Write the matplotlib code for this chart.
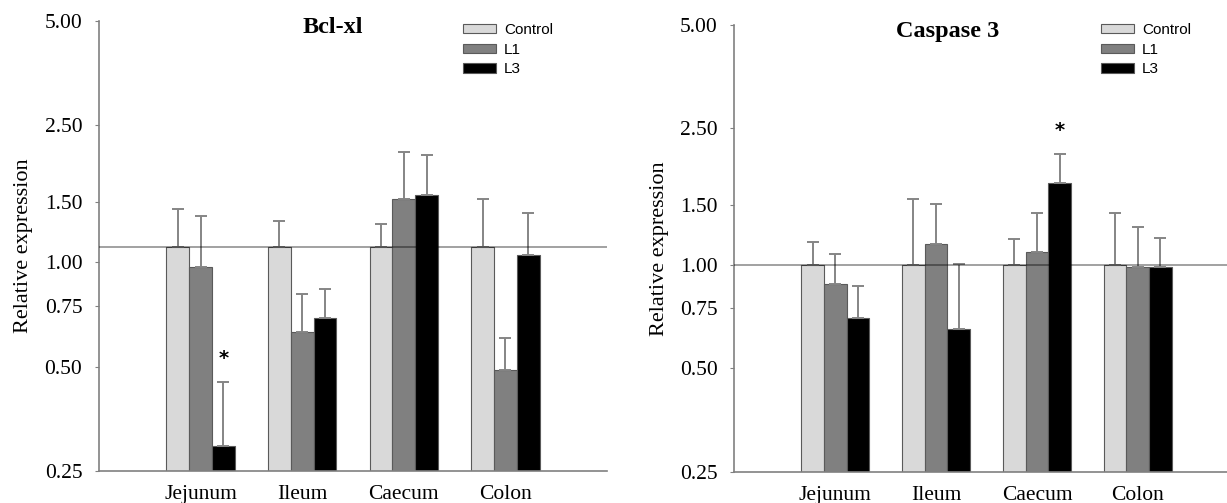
import matplotlib

matplotlib.use("Agg")
import matplotlib.pyplot as plt
from matplotlib.patches import Patch

# Sites and treatment groups
sites = ["Jejunum", "Ileum", "Caecum", "Colon"]
groups = ["Control", "L1", "L3"]

# Bcl-xl relative expression (mean and upper error bar end)
bcl_control = [1.11, 1.11, 1.11, 1.11]
bcl_l1 = [0.97, 0.63, 1.53, 0.49]
bcl_l3 = [0.295, 0.69, 1.57, 1.05]
bcl_control_top = [1.43, 1.32, 1.29, 1.53]
bcl_l1_top = [1.36, 0.81, 2.09, 0.605]
bcl_l3_top = [0.45, 0.84, 2.05, 1.39]
bcl_reference = 1.11
bcl_star = [(0, 2)]  # (site index, group index)

# Caspase 3 relative expression
casp_control = [1.0, 1.0, 1.0, 1.0]
casp_l1 = [0.88, 1.15, 1.09, 0.99]
casp_l3 = [0.70, 0.65, 1.73, 0.99]
casp_control_top = [1.17, 1.56, 1.19, 1.42]
casp_l1_top = [1.08, 1.51, 1.42, 1.29]
casp_l3_top = [0.87, 1.01, 2.10, 1.20]
casp_reference = 1.0
casp_star = [(2, 2)]

yticks = [0.25, 0.50, 0.75, 1.00, 1.50, 2.50, 5.00]

colors = ["#d9d9d9", "#808080", "#000000"]
SERIF = "Liberation Serif"
BAR_W = 0.225
YMIN, YMAX = 0.25, 5.0


def draw_panel(fig, ax, title, title_x, legend_x, means, tops, reference,
               stars):
    ax.set_yscale("log")
    ax.set_ylim(YMIN, YMAX)
    ax.set_xlim(-1, 4)
    xs = range(len(sites))
    for g, (vals, top) in enumerate(zip(means, tops)):
        pos = [x + (g - 1) * BAR_W for x in xs]
        heights = [v - YMIN for v in vals]
        ax.bar(pos, heights, bottom=YMIN, width=BAR_W, color=colors[g],
               edgecolor="#5a5a5a", linewidth=0.8, zorder=2)
        upper = [t - v for t, v in zip(top, vals)]
        lower = [0] * len(vals)
        ax.errorbar(pos, vals, yerr=[lower, upper], fmt="none",
                    ecolor="#858585", elinewidth=1.4, capsize=4,
                    capthick=1.4, zorder=3)
        for si, gi in stars:
            if gi == g:
                ax.text(pos[si], top[si] * 1.1, "*", ha="center",
                        va="bottom", fontsize=14, fontweight="bold")
    ax.axhline(reference, color="black", alpha=0.4, linewidth=1.3, zorder=4)

    ax.set_yticks(yticks)
    ax.set_yticklabels([f"{t:.2f}" for t in yticks], fontfamily=SERIF,
                       fontsize=15.5)
    ax.yaxis.set_minor_locator(matplotlib.ticker.NullLocator())
    ax.set_xticks(list(xs))
    ax.set_xticklabels(sites, fontfamily=SERIF, fontsize=15.5)
    ax.tick_params(axis="x", length=0, pad=10)
    ax.tick_params(axis="y", length=3, width=0.8, color="#808080", pad=9)
    ax.set_ylabel("Relative expression", fontfamily=SERIF, fontsize=16,
                  labelpad=8)
    for side in ["top", "right"]:
        ax.spines[side].set_visible(False)
    for side in ["left", "bottom"]:
        ax.spines[side].set_color("#808080")
        ax.spines[side].set_linewidth(1.2)
    ax.set_title(title, fontfamily=SERIF, fontweight="bold", fontsize=17.5,
                 x=title_x, y=0.955)

    handles = [Patch(facecolor=c, edgecolor="#5a5a5a", linewidth=0.8)
               for c in colors]
    ax.legend(handles, groups, loc="upper left",
              bbox_to_anchor=(legend_x, 0.982),
              bbox_transform=fig.transFigure,
              frameon=False, handlelength=2.2, handleheight=0.55,
              handletextpad=0.5, labelspacing=0.38,
              prop={"family": "Liberation Sans", "size": 11})


fig = plt.figure(figsize=(12.27, 5.03), dpi=100)
ax1 = fig.add_axes([0.0807, 0.0642, 0.414, 0.8947])
ax2 = fig.add_axes([0.5985, 0.0622, 0.411, 0.888])

draw_panel(fig, ax1, "Bcl-xl", 0.46, 449 / 1227,
           [bcl_control, bcl_l1, bcl_l3],
           [bcl_control_top, bcl_l1_top, bcl_l3_top], bcl_reference, bcl_star)
draw_panel(fig, ax2, "Caspase 3", 0.423, 1087 / 1227,
           [casp_control, casp_l1, casp_l3],
           [casp_control_top, casp_l1_top, casp_l3_top], casp_reference,
           casp_star)

fig.savefig("out.png", dpi=100)
